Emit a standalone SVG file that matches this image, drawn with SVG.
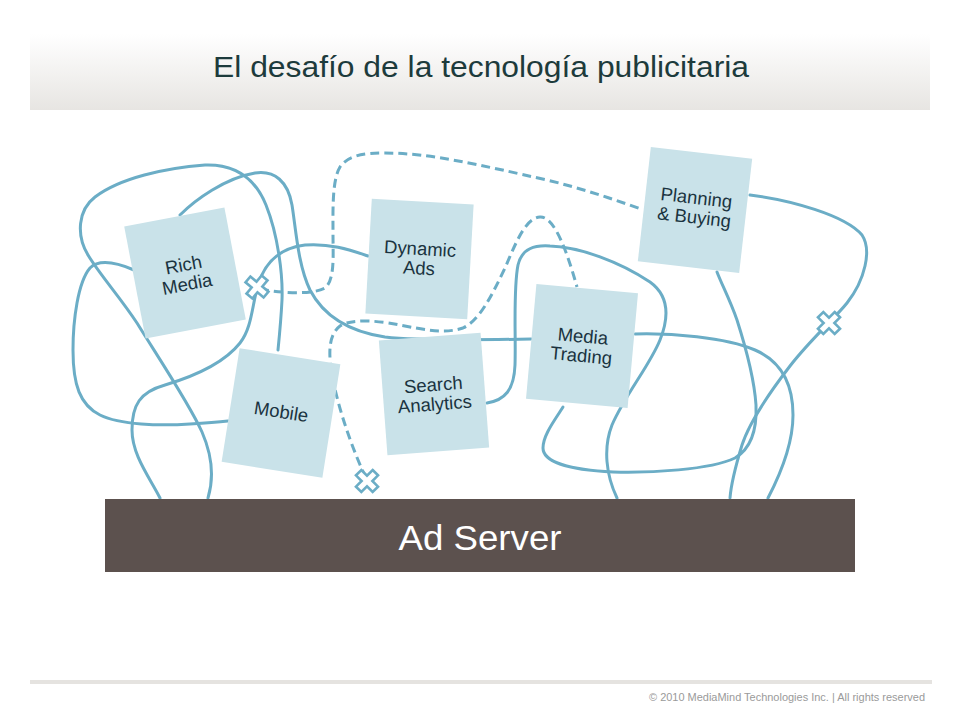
<svg xmlns="http://www.w3.org/2000/svg" xmlns:xlink="http://www.w3.org/1999/xlink" width="960" height="720" viewBox="0 0 960 720">
<defs>
<linearGradient id="band" x1="0" y1="0" x2="0" y2="1">
<stop offset="0" stop-color="#ffffff"/>
<stop offset="1" stop-color="#e7e5e2"/>
</linearGradient>
<path id="xmark" d="M-3.8,-11.8 H3.8 V-3.8 H11.8 V3.8 H3.8 V11.8 H-3.8 V3.8 H-11.8 V-3.8 H-3.8 Z"/>
</defs>
<style>
.ln{fill:none;stroke:#6badc6;stroke-width:3;stroke-linecap:round}
.dash{stroke-dasharray:9 5;stroke-linecap:butt}
.box{fill:#c9e2e9}
.lbl{font-family:"Liberation Sans",Arial,sans-serif;font-size:18.5px;fill:#1a3340;text-anchor:middle}
.xm{fill:#ffffff;stroke:#6badc6;stroke-width:2.6}
</style>
<rect x="0" y="0" width="960" height="720" fill="#ffffff"/>
<rect x="30" y="34" width="900" height="76" fill="url(#band)"/>
<text x="481" y="77" font-family="'Liberation Sans',Arial,sans-serif" font-size="29" fill="#1d3b3c" text-anchor="middle" textLength="536" lengthAdjust="spacingAndGlyphs">El desafío de la tecnología publicitaria</text>

<g id="connectors">
<path id="cA" class="ln" d="M160,498 C150,478 132,455 132,430 C132,405 140,392 165,385 C195,376 225,362 240,343 C252,328 252,305 258,285 C265,262 280,248 305,245 C330,243 350,250 368,256"/>
<path id="cB" class="ln" d="M208,498 C214,478 212,455 202,432 C190,405 160,360 137,323 C120,297 100,275 88,255 C76,235 78,210 95,197 C120,178 165,168 205,165 C235,164 255,178 266,205 C278,235 283,275 282,300 C281,320 279,340 278,350"/>
<path id="cC" class="ln" d="M180,215 C195,200 225,178 255,173 C275,170 288,182 292,205 C296,230 298,265 310,290 C322,313 345,331 385,337 C420,341 480,340 531,339"/>
<path id="cD" class="ln" d="M134,270 C120,264 100,258 90,268 C78,282 73,320 73,350 C73,385 80,405 100,415 C120,425 160,426 190,424 C205,423 218,422 228,421"/>
<path id="cE" class="ln dash" d="M260,289 C275,292 310,296 325,288 C335,280 333,255 333,235 C333,210 332,180 340,167 C348,155 365,153 385,153 C430,153 480,165 547,180 C580,188 610,198 641,209"/>
<path id="cF" class="ln dash" d="M366,478 C355,455 340,415 333,380 C328,355 328,335 340,326 C352,318 380,321 400,325 C425,330 445,334 463,328 C480,320 492,295 505,268 C515,245 525,218 540,217 C555,216 568,255 577,287"/>
<path id="cG" class="ln" d="M487,403 C505,400 514,390 515,365 C516,335 513,290 518,265 C522,248 535,245 550,246 C580,247 620,262 650,282 C668,295 670,315 660,340 C650,365 625,395 612,425 C603,448 606,475 617,498"/>
<path id="cH" class="ln" d="M563,407 C555,420 543,435 543,448 C543,462 570,470 613,472 C650,473 710,470 735,458 C752,448 757,428 756,405 C754,375 745,345 737,320 C730,300 722,285 717,272"/>
<path id="cI" class="ln" d="M635,334 C670,333 725,337 755,350 C785,363 793,390 793,415 C793,445 780,475 768,498"/>
<path id="cJ" class="ln" d="M750,195 C790,200 845,215 862,235 C872,250 865,280 847,303 C835,318 810,340 790,366 C770,392 750,420 742,445 C735,468 731,485 730,498"/>
</g>

<g id="rich-media" transform="translate(185,273) rotate(-10.8)">
<rect class="box" x="-51" y="-57" width="102" height="114"/>
<text class="lbl" x="0" y="-2">Rich</text>
<text class="lbl" x="0" y="17.5">Media</text>
</g>
<g id="mobile" transform="translate(281,413) rotate(9)">
<rect class="box" x="-51" y="-57.5" width="102" height="115"/>
<text class="lbl" x="0" y="5">Mobile</text>
</g>
<g id="dynamic-ads" transform="translate(419.5,259) rotate(3.2)">
<rect class="box" x="-51" y="-57.5" width="102" height="115"/>
<text class="lbl" x="0" y="-4">Dynamic</text>
<text class="lbl" x="0" y="15.5">Ads</text>
</g>
<g id="search-analytics" transform="translate(434,394) rotate(-4.3)">
<rect class="box" x="-51" y="-57.5" width="102" height="115"/>
<text class="lbl" x="0" y="-3">Search</text>
<text class="lbl" x="0" y="16.5">Analytics</text>
</g>
<g id="media-trading" transform="translate(582,346) rotate(5.2)">
<rect class="box" x="-51" y="-57.5" width="102" height="115"/>
<text class="lbl" x="0" y="-3.5">Media</text>
<text class="lbl" x="0" y="16">Trading</text>
</g>
<g id="planning-buying" transform="translate(695,210) rotate(6.5)">
<rect class="box" x="-51" y="-57.5" width="102" height="115"/>
<text class="lbl" x="0" y="-6">Planning</text>
<text class="lbl" x="0" y="13.5">&amp; Buying</text>
</g>

<g id="breaks">
<use xlink:href="#xmark" class="xm" transform="translate(257,287) rotate(40)"/>
<use xlink:href="#xmark" class="xm" transform="translate(367,481) rotate(45)"/>
<use xlink:href="#xmark" class="xm" transform="translate(829,323) rotate(45)"/>
</g>

<g id="ad-server">
<rect x="105" y="499" width="750" height="73" fill="#5c514e"/>
<text x="480" y="550" font-family="'Liberation Sans',Arial,sans-serif" font-size="35" fill="#ffffff" text-anchor="middle" textLength="163" lengthAdjust="spacingAndGlyphs">Ad Server</text>
</g>

<line x1="30" y1="682" x2="932" y2="682" stroke="#e5e3e0" stroke-width="4"/>
<text x="925" y="701" font-family="'Liberation Sans',Arial,sans-serif" font-size="11" fill="#9a9a9a" text-anchor="end" textLength="276" lengthAdjust="spacingAndGlyphs">© 2010 MediaMind Technologies Inc. | All rights reserved</text>
</svg>
